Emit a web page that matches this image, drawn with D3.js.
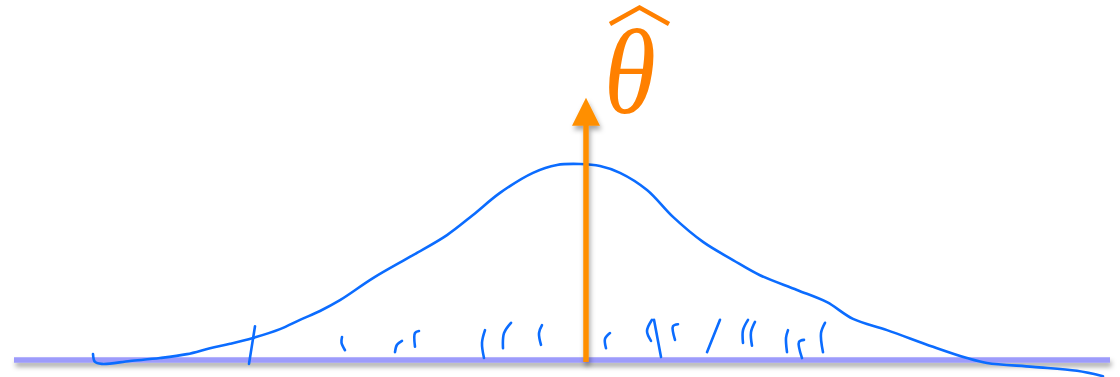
<!DOCTYPE html>
<html>
<head>
<meta charset="utf-8">
<script src="https://cdn.jsdelivr.net/npm/d3@7"></script>
<style>
  html, body { margin: 0; padding: 0; background: #fff; }
  svg { display: block; }
</style>
</head>
<body>
<svg id="chart" width="1120" height="377"></svg>
<script>
// sketched density of the estimator, theta-hat sits at 0
var curveX = [-4.93, -4.91, -4.84, -4.56, -4.26, -3.99, -3.76, -3.56, -3.33, -3.06, -2.86, -2.66, -2.46,
              -2.13, -1.73, -1.39, -1.13, -0.86, -0.53, -0.29, -0.06, 0.14, 0.34, 0.61, 0.87, 1.17,
              1.47, 1.74, 2.11, 2.41, 2.67, 3.01, 3.47, 3.81, 4.01, 4.47, 4.91, 5.17];
var curveY = [0.012, -0.004, -0.008, -0.002, 0.004, 0.012, 0.024, 0.033, 0.045, 0.063, 0.082, 0.100, 0.122,
              0.167, 0.214, 0.255, 0.296, 0.341, 0.382, 0.398, 0.400, 0.396, 0.382, 0.347, 0.292, 0.241,
              0.204, 0.173, 0.143, 0.118, 0.084, 0.061, 0.027, 0.004, -0.006, -0.014, -0.022, -0.033];

// hand drawn rug marks, each stroke top -> bottom as [x, density]
var rugStrokes = [
  [[-3.31, 0.069], [-3.37, -0.008]],
  [[-2.44, 0.047], [-2.445, 0.035], [-2.41, 0.020]],
  [[-1.84, 0.039], [-1.89, 0.031], [-1.91, 0.016]],
  [[-1.67, 0.059], [-1.71, 0.055], [-1.71, 0.027]],
  [[-1.01, 0.061], [-1.04, 0.035], [-1.02, 0.004]],
  [[-0.75, 0.076], [-0.82, 0.055], [-0.83, 0.024]],
  [[-0.44, 0.071], [-0.47, 0.055], [-0.45, 0.031]],
  [[0.24, 0.055], [0.19, 0.043], [0.20, 0.024]],
  [[0.66, 0.082], [0.61, 0.059], [0.65, 0.039]],
  [[0.68, 0.082], [0.75, 0.006]],
  [[0.92, 0.073], [0.87, 0.069], [0.89, 0.041]],
  [[1.34, 0.082], [1.21, 0.016]],
  [[1.62, 0.082], [1.57, 0.061], [1.57, 0.035]],
  [[1.69, 0.078], [1.65, 0.057], [1.66, 0.029]],
  [[2.02, 0.061], [2.00, 0.045], [2.01, 0.016]],
  [[2.18, 0.041], [2.13, 0.037], [2.16, 0.004]],
  [[2.39, 0.076], [2.35, 0.055], [2.37, 0.016]]
];

var axisDomain = [-5.72, 5.24];
var thetaHat = 0;
var arrowTop = 0.535;
var label = "\u03B8";

var svg = d3.select("#chart");
var x = d3.scaleLinear().domain(axisDomain).range([14, 1110]);
var y = d3.scaleLinear().domain([0, 0.4]).range([360, 164]);

var blue = "#0b6cff";
var orange = "#ff8f00";

// soft drop shadow like the keynote sketch
var defs = svg.append("defs");
defs.append("filter")
  .attr("id", "shadow")
  .attr("filterUnits", "userSpaceOnUse")
  .attr("x", 0).attr("y", 0)
  .attr("width", 1120).attr("height", 377)
  .append("feDropShadow")
  .attr("dx", 1.5)
  .attr("dy", 4)
  .attr("stdDeviation", 2.5)
  .attr("flood-color", "#000")
  .attr("flood-opacity", 0.35);

// Baseline
svg.append("rect")
  .attr("x", x(axisDomain[0]))
  .attr("y", y(0) - 2.75)
  .attr("width", x(axisDomain[1]) - x(axisDomain[0]))
  .attr("height", 5.5)
  .attr("fill", "#9d9bfb")
  .attr("filter", "url(#shadow)");

// Density curve
var line = d3.line()
  .x(function(d) { return x(d[0]); })
  .y(function(d) { return y(d[1]); })
  .curve(d3.curveCatmullRom.alpha(0.5));

svg.append("path")
  .datum(d3.zip(curveX, curveY))
  .attr("d", line)
  .attr("fill", "none")
  .attr("stroke", blue)
  .attr("stroke-width", 2.6)
  .attr("stroke-linecap", "round")
  .attr("stroke-linejoin", "round");

// Rug marks
svg.selectAll(".rug")
  .data(rugStrokes)
  .enter().append("path")
  .attr("class", "rug")
  .attr("d", line)
  .attr("fill", "none")
  .attr("stroke", blue)
  .attr("stroke-width", 2.6)
  .attr("stroke-linecap", "round");

// Arrow at theta-hat
var ax = x(thetaHat);
var tipY = y(arrowTop);
var headH = 28, headW = 28;
var arrow = svg.append("g").attr("filter", "url(#shadow)");
arrow.append("line")
  .attr("x1", ax).attr("x2", ax)
  .attr("y1", y(0) + 2)
  .attr("y2", tipY + headH - 1)
  .attr("stroke", orange)
  .attr("stroke-width", 5.5);
arrow.append("path")
  .attr("d", "M" + ax + "," + tipY +
             "L" + (ax + headW / 2) + "," + (tipY + headH) +
             "L" + (ax - headW / 2) + "," + (tipY + headH) + "Z")
  .attr("fill", orange);

// theta-hat label
var lx = ax + 44;
svg.append("text")
  .attr("transform", "translate(" + lx + ",113) scale(0.88,1)")
  .attr("text-anchor", "middle")
  .attr("font-family", "Liberation Serif, serif")
  .attr("font-style", "italic")
  .attr("font-size", 120)
  .attr("fill", "#ff8000")
  .text(label);

// the wide hat
svg.append("path")
  .attr("d", "M" + (ax + 24) + ",24L" + (ax + 53.5) + ",7.5L" + (ax + 83) + ",24")
  .attr("fill", "none")
  .attr("stroke", "#ff8000")
  .attr("stroke-width", 4.5)
  .attr("stroke-linejoin", "miter");
</script>
</body>
</html>
